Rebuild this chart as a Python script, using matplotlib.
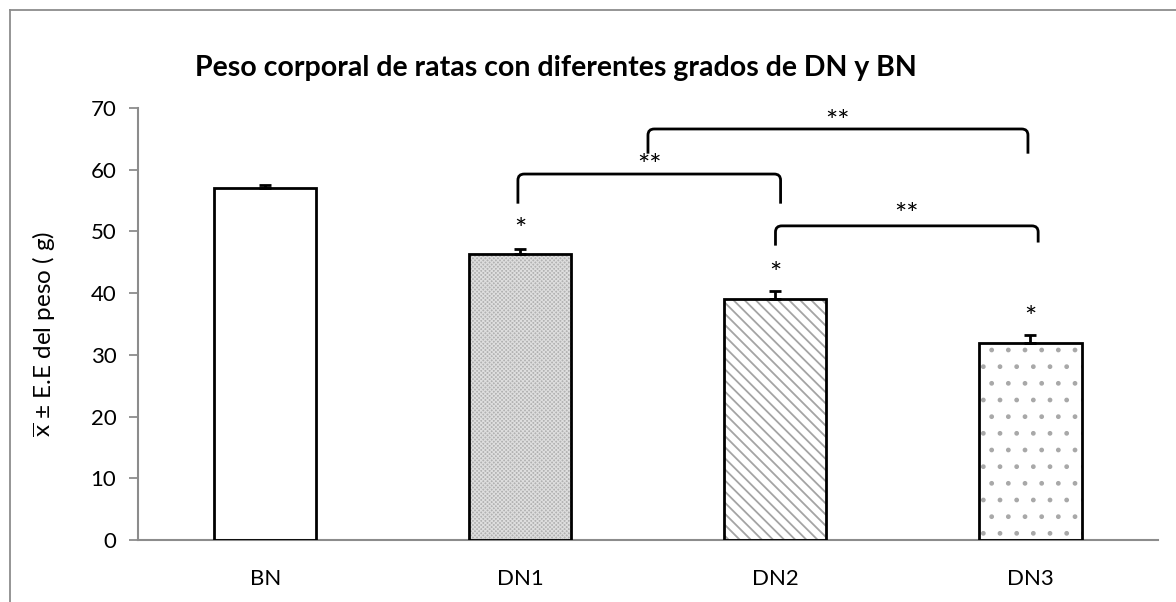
import numpy as np
import matplotlib
matplotlib.use('Agg')
import matplotlib.pyplot as plt
from matplotlib.path import Path
from matplotlib.patches import PathPatch
from matplotlib.lines import Line2D

plt.rcParams.update({
    'font.family': ['Lato', 'DejaVu Sans'],
    'mathtext.fontset': 'custom',
    'mathtext.rm': 'Lato',
})

# --- DATA ---
grupos = ['BN', 'DN1', 'DN2', 'DN3']
peso = [57.1, 46.3, 39.1, 32.0]
err = [0.5, 0.8, 1.3, 1.2]
star_y = [None, 50.0, 43.0, 35.8]
# brackets: (x izquierda, x derecha, y barra, y pata izq, y pata der, y texto)
brackets = [
    (1.5, 2.99, 66.6, 62.6, 62.6, 67.6),
    (0.99, 2.02, 59.3, 54.5, 54.5, 60.4),
    (2.0, 3.03, 50.9, 47.7, 48.2, 52.5),
]

fig = plt.figure(figsize=(11.76, 6.02), dpi=100)
ax = fig.add_axes([0.1173, 0.1030, 0.9847 - 0.1173, 0.8206 - 0.1030])

x = np.arange(len(grupos))
w = 0.40
faces = ['white', '#b2b2b2', 'white', 'white']
hcols = ['white', '#dedede', '#a4a4a4', '#a8a8a8']
hatches = [None, 'xxxxxxxx', '\\\\\\', '.']
hlw = [1.0, 0.8, 1.3, 1.0]
for i in range(len(grupos)):
    with plt.rc_context({'hatch.linewidth': hlw[i]}):
        ax.bar(x[i], peso[i], w, color=faces[i], edgecolor=hcols[i], hatch=hatches[i], lw=0, zorder=2)
ax.bar(x, peso, w, fill=False, edgecolor='black', lw=2, zorder=3)
ax.errorbar(x, peso, yerr=[np.zeros(len(err)), err], fmt='none', ecolor='black',
            elinewidth=2, capsize=4.3, capthick=2, zorder=4)

for i, yy in enumerate(star_y):
    if yy is not None:
        ax.text(x[i], yy, '*', ha='center', va='center', fontsize=21)

def bracket(x1, x2, yt, y1, y2):
    dx, dy = 0.025, 1.0
    verts = [(x1, y1), (x1, yt - dy), (x1, yt), (x1 + dx, yt), (x2 - dx, yt),
             (x2, yt), (x2, yt - dy), (x2, y2)]
    codes = [Path.MOVETO, Path.LINETO, Path.CURVE3, Path.CURVE3, Path.LINETO,
             Path.CURVE3, Path.CURVE3, Path.LINETO]
    ax.add_patch(PathPatch(Path(verts, codes), fill=False, lw=2, edgecolor='black', zorder=4))

for x1, x2, yt, y1, y2, ytx in brackets:
    bracket(x1, x2, yt, y1, y2)
    ax.text((x1 + x2) / 2, ytx, '**', ha='center', va='center', fontsize=21)

ax.set_xlim(-0.5, 3.5)
ax.set_ylim(0, 70)
ax.set_yticks(range(0, 71, 10))
ax.set_xticks(x)
ax.set_xticklabels(grupos)
ax.tick_params(axis='x', length=0, pad=21, labelsize=16)
ax.tick_params(axis='y', length=6.5, width=1.3, color='#8c8c8c', pad=9, labelsize=16)
for s in ['top', 'right']:
    ax.spines[s].set_visible(False)
for s in ['left', 'bottom']:
    ax.spines[s].set_color('#8c8c8c')
    ax.spines[s].set_linewidth(1.5)

fig.text(0.473, 0.887, 'Peso corporal de ratas con diferentes grados de DN y BN',
         ha='center', va='center', fontsize=20.5, fontweight='bold')
fig.text(44 / 1176, 1 - 334 / 602, r'$\overline{\mathrm{x}}$ ± E.E del peso ( g)',
         rotation=90, ha='center', va='center', fontsize=17.5)

# marco del gráfico (recortado a la derecha y abajo)
fig.add_artist(Line2D([10 / 1176, 10 / 1176], [0, 1 - 10 / 602], color='#8c8c8c', lw=1.3))
fig.add_artist(Line2D([10 / 1176, 1], [1 - 10 / 602, 1 - 10 / 602], color='#8c8c8c', lw=1.3))

fig.savefig('out.png', dpi=100)
